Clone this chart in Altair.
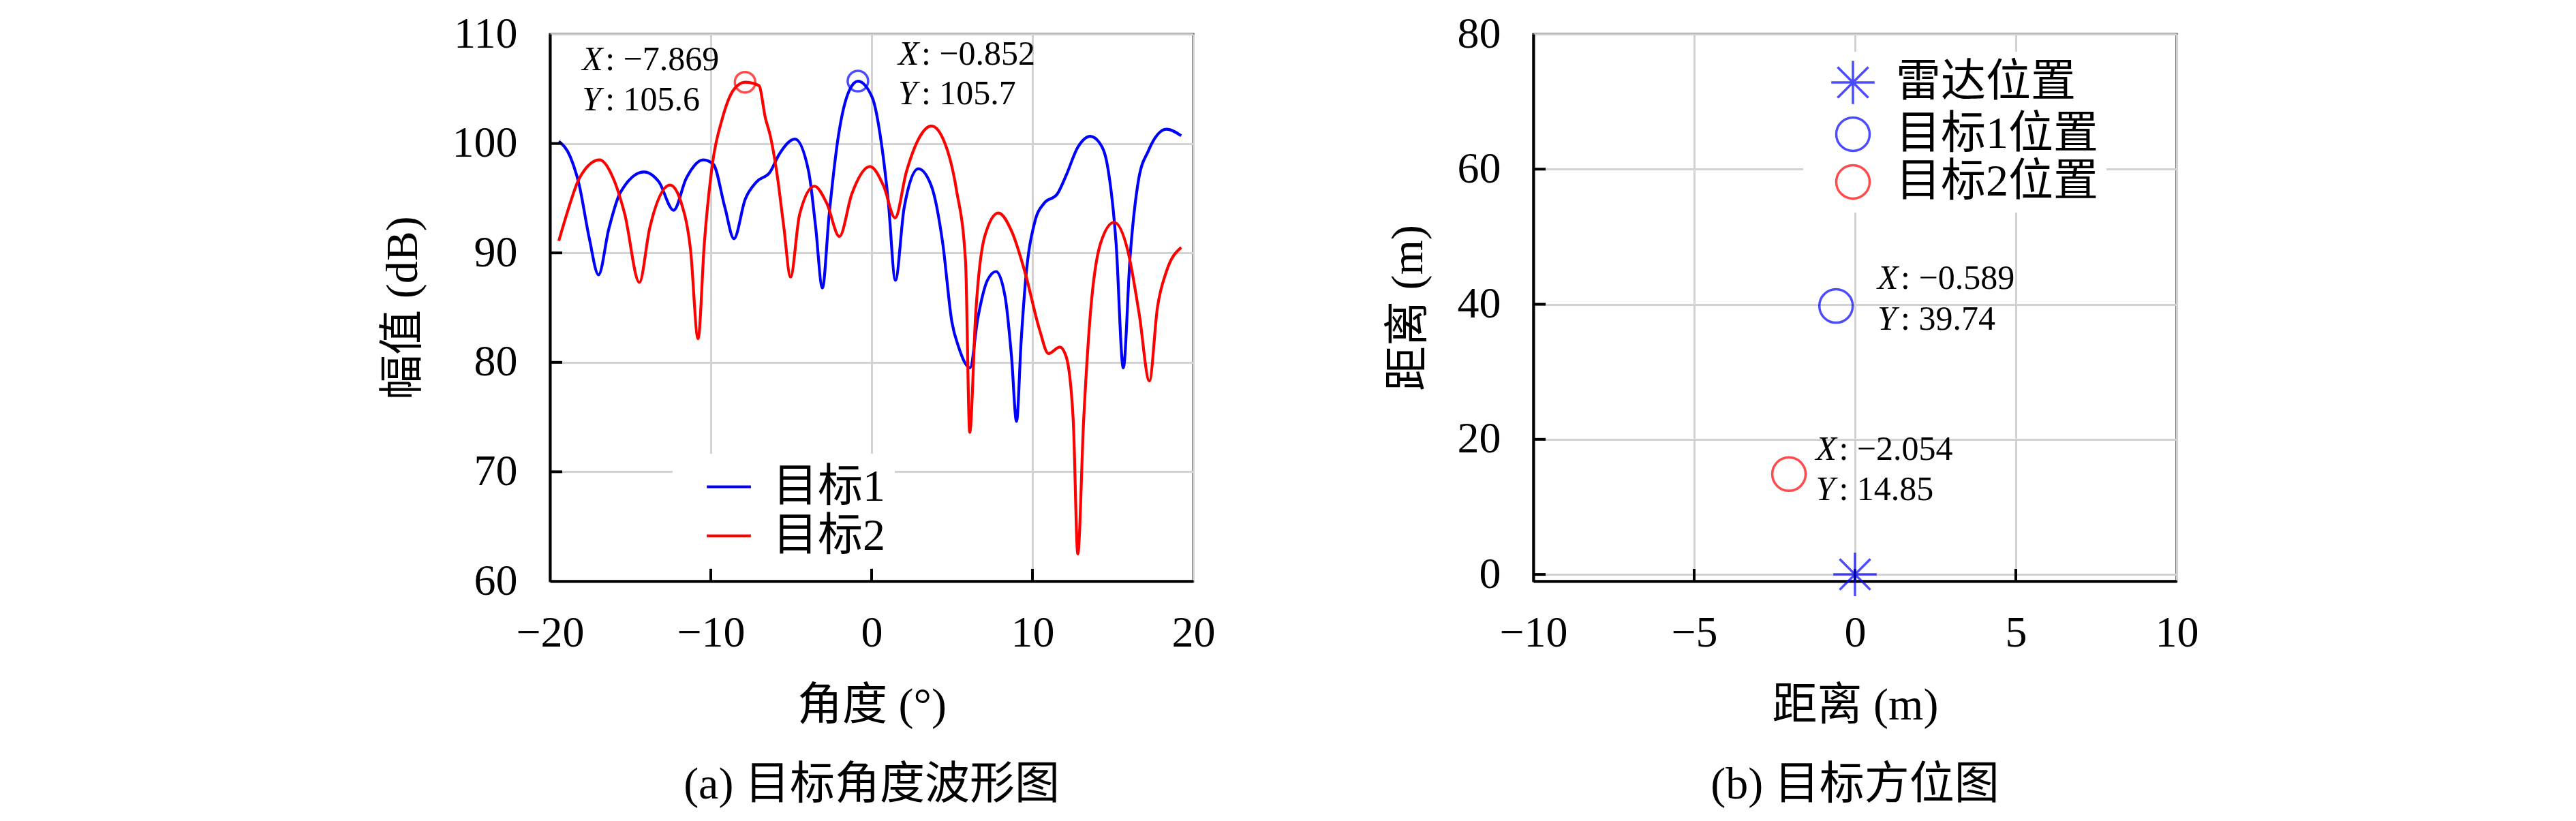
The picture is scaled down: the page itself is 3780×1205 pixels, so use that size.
import altair as alt
import pandas as pd

# ---------------- data: (a) angle waveform ----------------
t1_angle = [-19.45, -18.74, -18.18, -17.55, -16.98, -16.34, -15.63, -14.15, -13.23, -12.31,
            -11.53, -10.47, -9.84, -9.13, -8.56, -7.86, -7.15, -6.31, -5.75, -4.76,
            -3.91, -3.49, -3.06, -2.64, -2.07, -1.37, -0.85, 0.04, 0.61, 1.03,
            1.48, 2.02, 2.9, 3.72, 4.42, 4.99, 5.41, 6.12, 6.6, 7.2,
            7.74, 8.3, 8.7, 9.01, 9.3, 9.58, 10.14, 10.7, 11.55, 12.1,
            12.8, 13.6, 14.2, 14.66, 15.2, 15.65, 16.07, 16.6, 17.2, 18.33, 19.25]
t1_amp = [100.2, 98.8, 96.2, 91.3, 88.0, 92.2, 95.5, 97.4, 96.5, 93.9,
          96.8, 98.5, 98.1, 94.2, 91.3, 94.9, 96.5, 97.4, 99.0, 100.4,
          97.4, 92.5, 86.8, 93.5, 100.65, 104.9, 105.7, 104.2, 100.0, 94.8,
          87.5, 94.1, 97.7, 96.1, 90.9, 83.7, 81.4, 79.5, 84.0, 87.5,
          88.3, 86.0, 80.5, 74.6, 82.0, 87.6, 92.8, 94.5, 95.4, 97.1,
          99.6, 100.65, 100.0, 98.0, 90.9, 79.5, 89.6, 96.7, 99.3, 101.3, 100.7]

t2_angle = [-19.45, -18.88, -18.18, -16.91, -16.06, -15.35, -14.44, -13.8, -12.53, -11.82,
            -11.26, -10.79, -10.4, -9.9, -9.27, -8.56, -7.869, -7.01, -6.6, -6.3,
            -5.9, -5.47, -5.04, -4.48, -3.56, -2.78, -2.0, -1.23, -0.1, 0.75,
            1.46, 2.16, 3.01, 3.72, 4.56, 5.27, 5.84, 6.1, 6.47, 7.03,
            7.88, 8.73, 9.58, 10.42, 11.0, 11.7, 12.1, 12.54, 12.82, 13.18,
            13.6, 14.24, 15.08, 15.93, 16.64, 17.27, 17.77, 18.33, 19.25]
t2_amp = [91.1, 93.9, 96.8, 98.5, 96.8, 93.55, 87.3, 92.25, 96.2, 94.5,
          90.3, 82.15, 90.9, 98.1, 102.35, 104.95, 105.6, 105.3, 102.3, 100.7,
          97.4, 92.5, 87.8, 93.5, 96.1, 94.5, 91.5, 95.4, 97.9, 96.1,
          93.2, 97.4, 100.65, 101.6, 100.0, 95.8, 89.25, 73.6, 84.4, 91.5,
          93.65, 91.9, 88.0, 83.1, 80.8, 81.4, 80.5, 74.6, 62.5, 74.6,
          84.4, 90.9, 92.8, 90.2, 84.4, 78.3, 85.0, 88.3, 90.5]

series_names = ["目标1", "目标2"]
series_colors = ["#0000ff", "#ff0000"]

peak_angle = [-7.869, -0.852]
peak_amp = [105.6, 105.7]
peak_color = ["#ff0000", "#0000ff"]

tipA_letter = ["X", "Y", "X", "Y"]
tipA_value = [": \u22127.869", ": 105.6", ": \u22120.852", ": 105.7"]
tipA_angle = [-18.0, -18.0, 1.65, 1.65]
tipA_amp = [106.7, 103.0, 107.2, 103.6]

x_ticks_a = [-20, -10, 0, 10, 20]
y_ticks_a = [60, 70, 80, 90, 100, 110]

# ---------------- data: (b) target positions ----------------
pos_names = ["雷达位置", "目标1位置", "目标2位置"]
pos_x = [0.0, -0.589, -2.054]
pos_y = [0.0, 39.74, 14.85]
pos_colors = ["#0000ff", "#0000ff", "#ff0000"]

tipB_letter = ["X", "Y", "X", "Y"]
tipB_value = [": \u22120.589", ": 39.74", ": \u22122.054", ": 14.85"]
tipB_x = [0.7, 0.7, -1.22, -1.22]
tipB_y = [42.3, 36.2, 17.0, 11.0]

x_ticks_b = [-10, -5, 0, 5, 10]
y_ticks_b = [0, 20, 40, 60, 80]

# ---------------- styling ----------------
FONT = "Liberation Serif, Noto Sans CJK SC"
W, H = 944, 803
TICK = 18
TITLE_FS = 66
ASTERISK = "M-1.3,0L1.3,0M0,-1.3L0,1.3M-0.92,-0.92L0.92,0.92M-0.92,0.92L0.92,-0.92"


def axis(values, title, orient):
    return alt.Axis(values=values, title=title, grid=True, gridColor="#d2d2d2", gridWidth=3,
                    ticks=False, domain=True, domainColor="black", domainWidth=4,
                    labelFont=FONT, labelFontSize=64, labelColor="black", labelFlush=False,
                    labelPadding=44 if orient == "x" else 48,
                    titleFont=FONT, titleFontSize=TITLE_FS, titleFontWeight="normal", titleColor="black",
                    titlePadding=42 if orient == "x" else 38, format="d")


# ---------------- chart (a) ----------------
line_df = pd.DataFrame({
    "angle": t1_angle + t2_angle,
    "amp": t1_amp + t2_amp,
    "series": [series_names[0]] * len(t1_angle) + [series_names[1]] * len(t2_angle),
})
peak_df = pd.DataFrame({"angle": peak_angle, "amp": peak_amp, "c": peak_color})
tipA_df = pd.DataFrame({"angle": tipA_angle, "amp": tipA_amp, "letter": tipA_letter, "value": tipA_value})
btA = pd.DataFrame({"angle": x_ticks_a[1:-1]})
ltA = pd.DataFrame({"amp": y_ticks_a[1:-1]})

xA = alt.X("angle:Q", scale=alt.Scale(domain=[-20, 20], nice=False), axis=axis(x_ticks_a, "角度 (°)", "x"))
yA = alt.Y("amp:Q", scale=alt.Scale(domain=[60, 110], nice=False, zero=False), axis=axis(y_ticks_a, "幅值 (dB)", "y"))

linesA = alt.Chart(line_df).mark_line(strokeWidth=4.2, interpolate="monotone").encode(
    x=xA, y=yA,
    color=alt.Color("series:N", scale=alt.Scale(domain=series_names, range=series_colors),
                    legend=alt.Legend(title=None, orient="none", legendX=180, legendY=616,
                                      fillColor="white", padding=14, symbolOffset=34,
                                      symbolType="stroke", symbolSize=4200, symbolStrokeWidth=4,
                                      labelFont=FONT, labelFontSize=66, labelColor="black",
                                      labelOffset=30, labelLimit=600, rowPadding=4)),
)
peaksA = alt.Chart(peak_df).mark_point(shape="circle", filled=False, size=900, strokeWidth=3.5).encode(
    x=xA, y=yA, stroke=alt.Stroke("c:N", scale=None))
tipLetterA = alt.Chart(tipA_df).mark_text(align="left", baseline="alphabetic", font=FONT, fontSize=50,
                                          fontStyle="italic", color="black").encode(x=xA, y=yA, text="letter:N")
tipValueA = alt.Chart(tipA_df).mark_text(align="left", baseline="alphabetic", font=FONT, fontSize=50,
                                         dx=34, color="black").encode(x=xA, y=yA, text="value:N")
bottomTicksA = alt.Chart(btA).mark_rule(color="black", strokeWidth=4).encode(
    x=xA, y=alt.value(H), y2=alt.value(H - TICK))
leftTicksA = alt.Chart(ltA).mark_rule(color="black", strokeWidth=4).encode(
    y=yA, x=alt.value(0), x2=alt.value(TICK))

chartA = alt.layer(linesA, peaksA, tipLetterA, tipValueA, bottomTicksA, leftTicksA).properties(
    width=W, height=H,
    title=alt.TitleParams("(a) 目标角度波形图", orient="bottom", font=FONT, fontSize=TITLE_FS,
                          fontWeight="normal", color="black", offset=52, anchor="middle", frame="group"),
)

# ---------------- chart (b) ----------------
pos_df = pd.DataFrame({"x": pos_x, "y": pos_y, "name": pos_names})
tipB_df = pd.DataFrame({"x": tipB_x, "y": tipB_y, "letter": tipB_letter, "value": tipB_value})
btB = pd.DataFrame({"x": x_ticks_b[1:-1]})
ltB = pd.DataFrame({"y": y_ticks_b[:-1]})

xB = alt.X("x:Q", scale=alt.Scale(domain=[-10, 10], nice=False), axis=axis(x_ticks_b, "距离 (m)", "x"))
yB = alt.Y("y:Q", scale=alt.Scale(domain=[-1, 80], nice=False, zero=False), axis=axis(y_ticks_b, "距离 (m)", "y"))

pointsB = alt.Chart(pos_df).mark_point(filled=False, size=2400, strokeWidth=3.5).encode(
    x=xB, y=yB,
    color=alt.Color("name:N", scale=alt.Scale(domain=pos_names, range=pos_colors),
                    legend=alt.Legend(title=None, orient="none", legendX=396, legendY=26,
                                      fillColor="white", padding=12, symbolOffset=28,
                                      symbolSize=2400, symbolStrokeWidth=3.5, labelFont=FONT,
                                      labelFontSize=66, labelColor="black", labelOffset=30,
                                      labelLimit=600, rowPadding=4)),
    shape=alt.Shape("name:N", scale=alt.Scale(domain=pos_names, range=[ASTERISK, "circle", "circle"])),
)
tipLetterB = alt.Chart(tipB_df).mark_text(align="left", baseline="alphabetic", font=FONT, fontSize=50,
                                          fontStyle="italic", color="black").encode(x=xB, y=yB, text="letter:N")
tipValueB = alt.Chart(tipB_df).mark_text(align="left", baseline="alphabetic", font=FONT, fontSize=50,
                                         dx=34, color="black").encode(x=xB, y=yB, text="value:N")
bottomTicksB = alt.Chart(btB).mark_rule(color="black", strokeWidth=4).encode(
    x=xB, y=alt.value(H), y2=alt.value(H - TICK))
leftTicksB = alt.Chart(ltB).mark_rule(color="black", strokeWidth=4).encode(
    y=yB, x=alt.value(0), x2=alt.value(TICK))

chartB = alt.layer(bottomTicksB, leftTicksB, pointsB, tipLetterB, tipValueB).properties(
    width=W, height=H,
    title=alt.TitleParams("(b) 目标方位图", orient="bottom", font=FONT, fontSize=TITLE_FS,
                          fontWeight="normal", color="black", offset=52, anchor="middle", frame="group"),
)

chart = alt.hconcat(chartA, chartB, spacing=246).resolve_scale(color="independent", shape="independent").configure(
    background="white",
    padding={"left": 548, "top": 8, "right": 10, "bottom": 5},
).configure_view(stroke="black", strokeWidth=3)

chart.save("out.html", embed_options={"renderer": "svg", "actions": False})
